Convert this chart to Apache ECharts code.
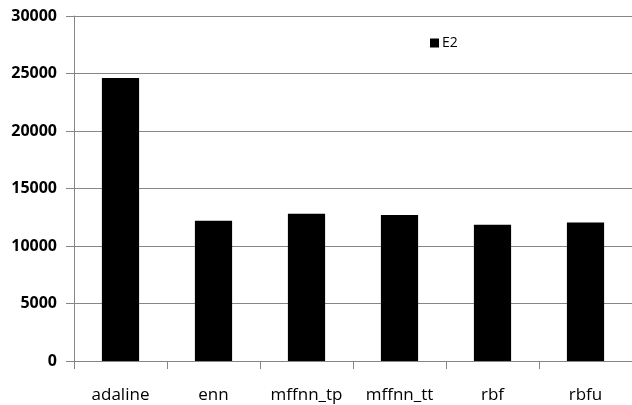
<!DOCTYPE html>
<html><head><meta charset="utf-8">
<script src="https://cdn.jsdelivr.net/npm/echarts@6/dist/echarts.min.js"></script>
<style>html,body{margin:0;padding:0;background:#fff}#c{width:632px;height:405px}</style>
</head><body><div id="c"></div>
<script>
const categories = ["adaline", "enn", "mffnn_tp", "mffnn_tt", "rbf", "rbfu"];
const seriesName = "E2";
const e2Values = [24600, 12200, 12800, 12700, 11850, 12050];
const yTicks = [0, 5000, 10000, 15000, 20000, 25000, 30000];

const chart = echarts.init(document.getElementById('c'), null, {renderer: 'canvas'});
chart.setOption({
  animation: false,
  backgroundColor: '#fff',
  grid: {left: 74, right: -2, top: 16, bottom: 44, containLabel: false},
  legend: {
    data: [seriesName], left: 425, top: 31, itemWidth: 9, itemHeight: 9, itemGap: 4,
    icon: 'rect',
    textStyle: {fontFamily: 'Open Sans', fontSize: 14, color: '#000', padding: [0,0,0,-2]}
  },
  xAxis: {
    type: 'category', data: categories,
    axisLine: {lineStyle: {color: '#868686', width: 1}},
    axisTick: {show: true, alignWithLabel: false, length: 8, lineStyle: {color: '#868686'}},
    axisLabel: {margin: 26, fontFamily: 'Open Sans', fontSize: 17, color: '#000', interval: 0}
  },
  yAxis: {
    type: 'value', min: yTicks[0], max: yTicks[yTicks.length-1], interval: 5000,
    axisLine: {show: true, lineStyle: {color: '#868686', width: 1}},
    axisTick: {show: true, length: 8, lineStyle: {color: '#868686'}},
    splitLine: {lineStyle: {color: '#868686', width: 1}},
    axisLabel: {margin: 17, fontFamily: 'Open Sans', fontSize: 16, fontWeight: 'bold', color: '#000',
      formatter: v => String(v)}
  },
  series: [{
    name: seriesName, type: 'bar', data: e2Values, barWidth: '40%',
    itemStyle: {color: '#000'}
  }]
});
</script></body></html>
